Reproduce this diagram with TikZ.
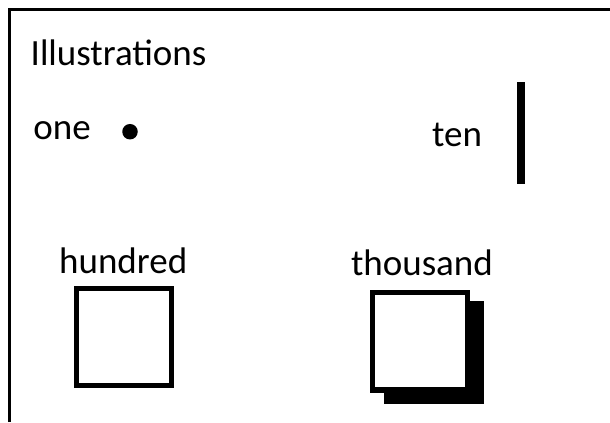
\documentclass[tikz,border=0pt]{standalone}
\usepackage{fontspec}
\setmainfont{Carlito}
\begin{document}
\begin{tikzpicture}[x=1bp,y=-1bp,
  lbl/.style={anchor=base west,inner sep=0pt,font=\fontsize{37bp}{44bp}\selectfont},
  sqbox/.style={draw=black,fill=white,line width=5.2bp,inner sep=0pt,minimum width=94.4bp,minimum height=97bp},
  shadowbox/.style={fill=black,inner sep=0pt,minimum width=100bp,minimum height=103bp}]
\useasboundingbox (0,0) rectangle (610,422);
% frame (clipped at right and bottom)
\coordinate (fbl) at (9.3,422);
\coordinate (ftl) at (9.3,9.3);
\coordinate (ftr) at (610,9.3);
\draw[line width=2.8bp] (fbl) -- (ftl) -- (ftr);
% texts
\node[lbl] (title) at (30.5,65.7) {Illustrations};
\node[lbl] (one) at (33.3,139.3) {one};
\node[lbl] (ten) at (432,146) {ten};
\node[lbl] (hundred) at (59,273.3) {hundred};
\node[lbl] (thousand) at (350.8,275.7) {thousand};
% one: dot
\node[circle,fill=black,inner sep=0pt,minimum size=15.5bp] (dot) at (130,131.7) {};
% ten: bar
\node[fill=black,inner sep=0pt,minimum width=8.3bp,minimum height=102bp] (bar) at (520.8,133.3) {};
% hundred: square
\node[sqbox] (hsq) at (124,336.7) {};
% thousand: square with shadow
\node[shadowbox] (tshadow) at (434,352.4) {};
\node[sqbox,minimum height=97.5bp] (tsq) at (420,341.3) {};
\end{tikzpicture}
\end{document}
